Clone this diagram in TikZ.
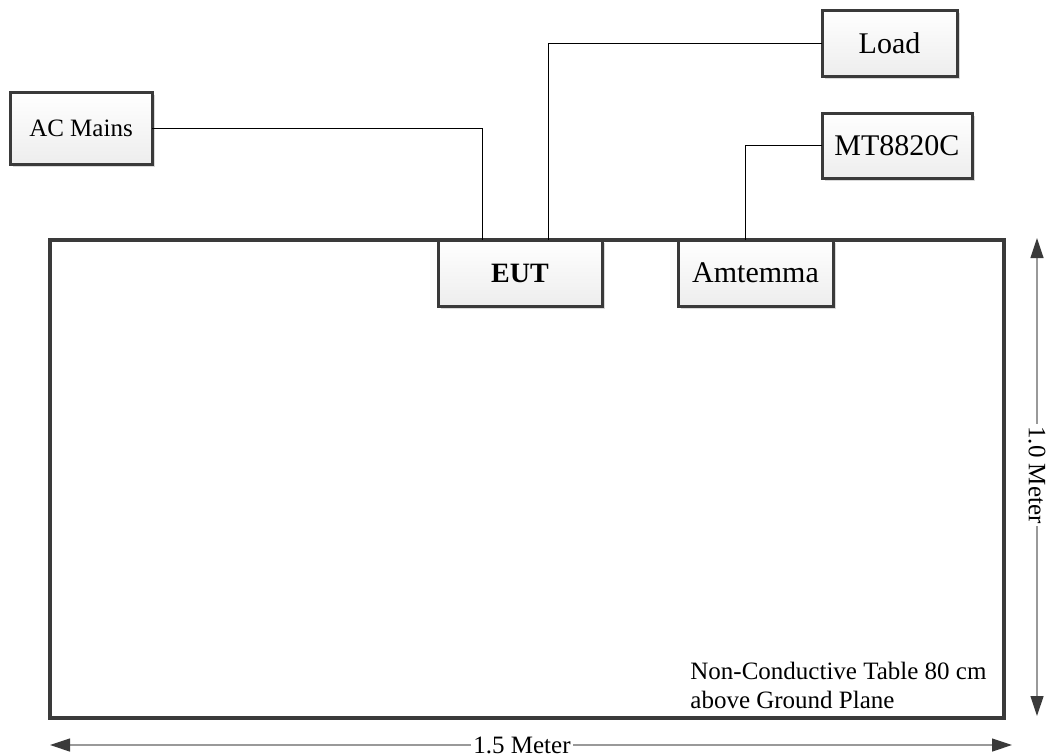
\documentclass[tikz,border=0pt]{standalone}
\usepackage{fontspec}
\setmainfont{Liberation Serif}
\usetikzlibrary{arrows.meta,shadows,calc}
\definecolor{edge}{HTML}{3A3A3A}
\begin{document}
\begin{tikzpicture}[x=0.5pt,y=-0.5pt,
  box/.style={draw=edge,line width=1.5pt,top color=white,bottom color=black!7,
    drop shadow={shadow xshift=1.6pt,shadow yshift=-1.6pt,fill=black!15,opacity=1},
    inner sep=0pt,outer sep=0pt},
  wire/.style={line width=0.5pt,black},
  dim/.style={line width=0.6pt,black!40,
    {Triangle[length=10pt,width=6.5pt,color=edge]}-{Triangle[length=10pt,width=6.5pt,color=edge]}},
  dimlabel/.style={fill=white,inner sep=1pt,font=\fontsize{12.5}{14}\selectfont}
]
\useasboundingbox (0,0) rectangle (1046,756);
% table
\node[draw=edge,line width=1.7pt,minimum width=477pt,minimum height=239pt,inner sep=0pt,outer sep=0pt] (table) at (527,479) {};
% boxes
\node[box,minimum width=71pt,minimum height=36pt,font=\fontsize{12.5}{14}\selectfont] (ac) at (81,128) {AC Mains};
\node[box,minimum width=67.5pt,minimum height=33pt,font=\fontsize{15}{17}\selectfont] (load) at (889.5,43) {Load};
\node[box,minimum width=75pt,minimum height=32.5pt,font=\fontsize{15}{17}\selectfont] (mt) at (897,145.5) {MT8820C};
\node[box,minimum width=82pt,minimum height=33pt,font=\fontsize{14}{16}\selectfont\bfseries] (eut) at (520,273) {EUT};
\node[box,minimum width=77.5pt,minimum height=33pt,font=\fontsize{15}{17}\selectfont] (amt) at (755.5,273) {Amtemma};
% wires
\draw[wire] (ac.east) -| ($(eut.north)+(-38,0)$);
\draw[wire] ($(eut.north)+(28,0)$) |- (load.west);
\draw[wire] ($(amt.north)+(-10.5,0)$) |- (mt.west);
% note
\node[anchor=west,align=left,inner sep=0pt,font=\fontsize{12.5}{14.5}\selectfont] (note) at (690,685) {Non-Conductive Table 80 cm\\above Ground Plane};
% dimensions
\coordinate (vtop) at (1037,238);
\coordinate (vbot) at (1037,716);
\coordinate (hl) at (50,745);
\coordinate (hr) at (1012,745);
\draw[dim] (vtop) -- (vbot);
\node[dimlabel,rotate=-90] (vlab) at (1037,475) {1.0 Meter};
\draw[dim] (hl) -- (hr);
\node[dimlabel] (hlab) at (522,745) {1.5 Meter};
\end{tikzpicture}
\end{document}
